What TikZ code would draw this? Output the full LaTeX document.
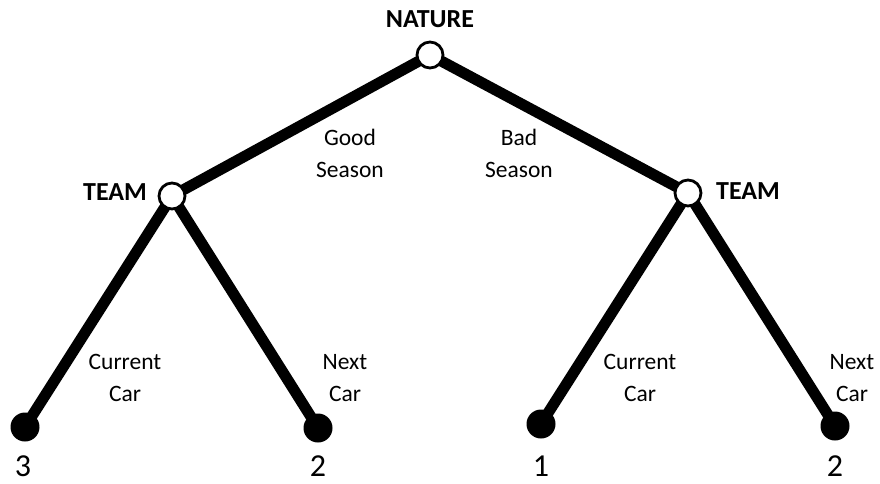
\documentclass[tikz,border=0pt]{standalone}
\usepackage{fontspec}
\setmainfont{Carlito}
\usetikzlibrary{positioning,backgrounds}
\tikzset{
  every picture/.style={x=1pt, y=-1pt},
  chance/.style={circle, draw=black, fill=white, line width=2.8pt, minimum size=26pt, inner sep=0pt},
  leaf/.style={circle, fill=black, minimum size=29pt, inner sep=0pt},
  branch/.style={line width=11pt, draw=black},
  who/.style={font=\fontsize{26}{30}\selectfont\bfseries},
  act/.style={font=\fontsize{23.5}{32}\selectfont, align=center},
  pay/.style={font=\fontsize{32}{36}\selectfont},
}
\begin{document}
\begin{tikzpicture}
\useasboundingbox (0,0) rectangle (880,483);
% decision points
\node[chance] (nature) at (430,55) {};
\node[chance] (teamL) at (172,196) {};
\node[chance] (teamR) at (688,193) {};
\node[leaf] (endA) at (25,427) {};
\node[leaf] (endB) at (318,428) {};
\node[leaf] (endC) at (541,424) {};
\node[leaf] (endD) at (835,426) {};
% branches
\begin{scope}[on background layer]
\draw[branch] (nature.center) -- (teamL.center);
\draw[branch] (nature.center) -- (teamR.center);
\draw[branch] (teamL.center) -- (endA.center);
\draw[branch] (teamL.center) -- (endB.center);
\draw[branch] (teamR.center) -- (endC.center);
\draw[branch] (teamR.center) -- (endD.center);
\end{scope}
% players
\node[who] (natureLab) at (430,19) {NATURE};
\node[who] (teamLLab) at (115,192) {TEAM};
\node[who] (teamRLab) at (748,191) {TEAM};
% moves
\node[act] (good) at (350,153) {Good\\Season};
\node[act] (bad) at (519,153) {Bad\\Season};
\node[act] (curL) at (125,378) {Current\\Car};
\node[act] (nextL) at (345,378) {Next\\Car};
\node[act] (curR) at (640,378) {Current\\Car};
\node[act] (nextR) at (852,378) {Next\\Car};
% payoffs
\node[pay] (payA) at (23,466) {3};
\node[pay] (payB) at (318,466) {2};
\node[pay] (payC) at (541,466) {1};
\node[pay] (payD) at (835,466) {2};
\end{tikzpicture}
\end{document}
